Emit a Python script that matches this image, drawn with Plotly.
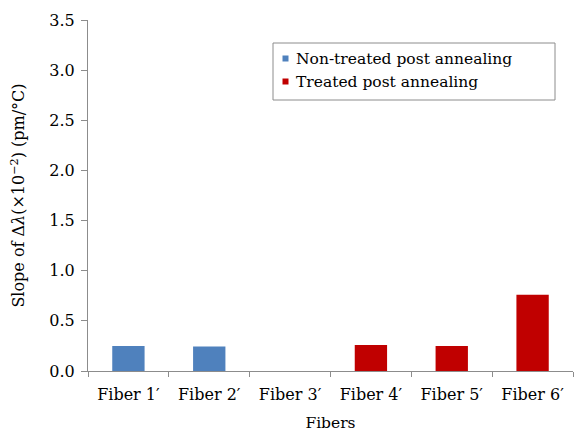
import plotly.graph_objects as go

fibers = ["Fiber 1′", "Fiber 2′", "Fiber 3′", "Fiber 4′", "Fiber 5′", "Fiber 6′"]
non_treated = [0.25, 0.245, None, None, None, None]
treated = [None, None, None, 0.26, 0.25, 0.76]

series_names = ["Non-treated post annealing", "Treated post annealing"]
series_colors = ["#4F81BD", "#C00000"]

font_family = "DejaVu Serif"
axis_grey = "#8c8c8c"

W, H = 576, 432
M_L, M_R, M_T, M_B = 88, 3, 20, 61
PW, PH = W - M_L - M_R, H - M_T - M_B


def px_x(x):
    return (x - M_L) / PW


def px_y(y):
    return (H - M_B - y) / PH


fig = go.Figure()
for vals, name, color in zip([non_treated, treated], series_names, series_colors):
    fig.add_trace(go.Bar(x=fibers, y=vals, name=name, showlegend=False,
                         marker=dict(color=color, line=dict(width=0)), width=0.4))

# legend box with small square keys
shapes = [dict(type="rect", xref="paper", yref="paper",
               x0=px_x(273), x1=px_x(555), y0=px_y(100), y1=px_y(43),
               line=dict(color=axis_grey, width=1), fillcolor="white", layer="above")]
annotations = []
for i, (name, color) in enumerate(zip(series_names, series_colors)):
    cy = 58.5 + 23 * i
    shapes.append(dict(type="rect", xref="paper", yref="paper",
                       x0=px_x(282.5), x1=px_x(288.5), y0=px_y(cy + 3), y1=px_y(cy - 3),
                       line=dict(width=0), fillcolor=color, layer="above"))
    annotations.append(dict(xref="paper", yref="paper", x=px_x(294), y=px_y(cy),
                            xanchor="left", yanchor="middle", showarrow=False,
                            text=name, font=dict(family=font_family, size=15.5, color="black")))

fig.update_layout(
    width=W, height=H,
    barmode="overlay",
    paper_bgcolor="white", plot_bgcolor="white",
    margin=dict(l=M_L, r=M_R, t=M_T, b=M_B),
    font=dict(family=font_family, size=16, color="black"),
    showlegend=False,
    shapes=shapes,
    annotations=annotations,
    xaxis=dict(
        title=dict(text="Fibers", standoff=13, font=dict(family=font_family, size=15.5)),
        showline=True, linecolor=axis_grey, linewidth=1,
        ticks="outside", tickson="boundaries", ticklen=5, tickcolor=axis_grey,
        ticklabelstandoff=9, automargin=False,
        showgrid=False, tickfont=dict(family=font_family, size=16),
    ),
    yaxis=dict(
        title=dict(text="Slope of Δ<i>λ</i>(×10<sup>−2</sup>) (pm/°C)", standoff=20,
                   font=dict(family=font_family, size=16)),
        range=[0, 3.5], dtick=0.5, tickformat=".1f",
        showline=True, linecolor=axis_grey, linewidth=1,
        ticks="outside", ticklen=6, tickcolor=axis_grey, ticklabelstandoff=3,
        automargin=False,
        showgrid=False, zeroline=False, tickfont=dict(family=font_family, size=16),
    ),
)

fig.write_html("out.html")
